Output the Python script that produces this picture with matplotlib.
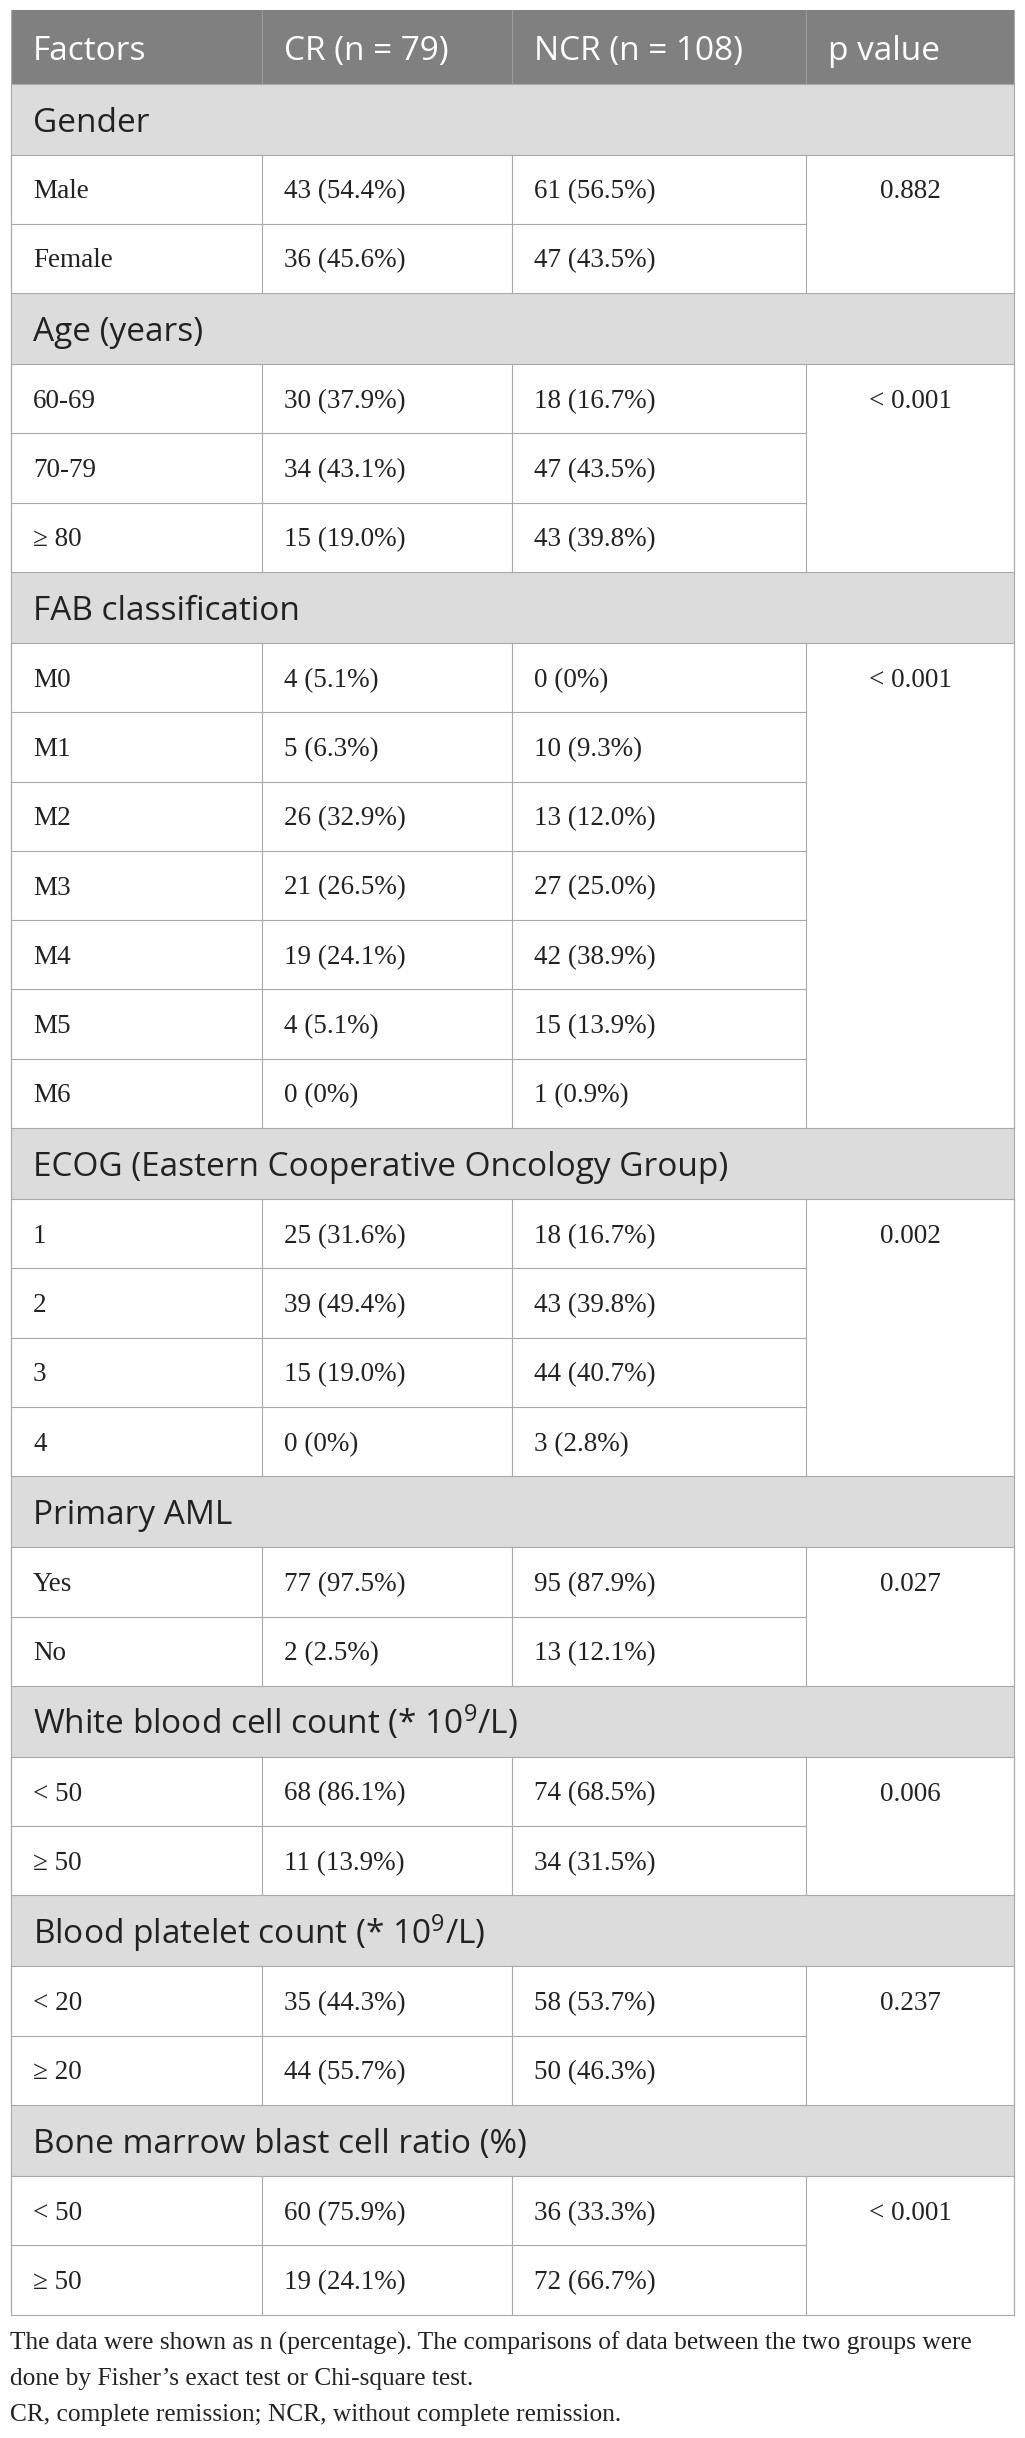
import matplotlib
matplotlib.use("Agg")
import matplotlib.pyplot as plt
from matplotlib.patches import Rectangle

plt.rcParams['mathtext.fontset'] = 'custom'
plt.rcParams['mathtext.rm'] = 'Open Sans'
plt.rcParams['mathtext.it'] = 'Open Sans:italic'

# table content
headers = ["Factors", "CR (n = 79)", "NCR (n = 108)", "p value"]

sections = ["Gender",
            "Age (years)",
            "FAB classification",
            "ECOG (Eastern Cooperative Oncology Group)",
            "Primary AML",
            r"White blood cell count (* $10^{9}$/L)",
            r"Blood platelet count (* $10^{9}$/L)",
            "Bone marrow blast cell ratio (%)"]

levels = [["Male", "Female"],
          ["60-69", "70-79", "\u2265 80"],
          ["M0", "M1", "M2", "M3", "M4", "M5", "M6"],
          ["1", "2", "3", "4"],
          ["Yes", "No"],
          ["< 50", "\u2265 50"],
          ["< 20", "\u2265 20"],
          ["< 50", "\u2265 50"]]

cr = [["43 (54.4%)", "36 (45.6%)"],
      ["30 (37.9%)", "34 (43.1%)", "15 (19.0%)"],
      ["4 (5.1%)", "5 (6.3%)", "26 (32.9%)", "21 (26.5%)", "19 (24.1%)", "4 (5.1%)", "0 (0%)"],
      ["25 (31.6%)", "39 (49.4%)", "15 (19.0%)", "0 (0%)"],
      ["77 (97.5%)", "2 (2.5%)"],
      ["68 (86.1%)", "11 (13.9%)"],
      ["35 (44.3%)", "44 (55.7%)"],
      ["60 (75.9%)", "19 (24.1%)"]]

ncr = [["61 (56.5%)", "47 (43.5%)"],
       ["18 (16.7%)", "47 (43.5%)", "43 (39.8%)"],
       ["0 (0%)", "10 (9.3%)", "13 (12.0%)", "27 (25.0%)", "42 (38.9%)", "15 (13.9%)", "1 (0.9%)"],
       ["18 (16.7%)", "43 (39.8%)", "44 (40.7%)", "3 (2.8%)"],
       ["95 (87.9%)", "13 (12.1%)"],
       ["74 (68.5%)", "34 (31.5%)"],
       ["58 (53.7%)", "50 (46.3%)"],
       ["36 (33.3%)", "72 (66.7%)"]]

p_values = ["0.882", "< 0.001", "< 0.001", "0.002", "0.027", "0.006", "0.237", "< 0.001"]

notes = ["The data were shown as n (percentage). The comparisons of data between the two groups were",
         "done by Fisher\u2019s exact test or Chi-square test.",
         "CR, complete remission; NCR, without complete remission."]

# layout in pixels
W, H = 1025, 2438
col_x = [11, 262, 512, 806, 1014]
top, head_h, sec_h, row_h = 10, 73.5, 71, 69.3
pad = 22
sans = "Open Sans"
serif = "Liberation Serif"
head_bg, sec_bg = "#808080", "#dcdcdc"
line_c, text_c = "#a9a9a9", "#222222"
lw = 0.8

fig = plt.figure(figsize=(W / 100, H / 100), dpi=100)
ax = fig.add_axes([0, 0, 1, 1])
ax.set_xlim(0, W)
ax.set_ylim(H, 0)
ax.axis('off')

# header
ax.add_patch(Rectangle((col_x[0], top), col_x[-1] - col_x[0], head_h,
                       facecolor=head_bg, edgecolor='none'))
for x in col_x[1:-1]:
    ax.plot([x, x], [top, top + head_h], color="#9c9c9c", lw=lw)
for i, h in enumerate(headers):
    ax.text(col_x[i] + pad, top + head_h / 2 + 13, h, color='white',
            fontsize=24, family=sans, va='baseline', ha='left')

y = top + head_h
for s, sec in enumerate(sections):
    ax.add_patch(Rectangle((col_x[0], y), col_x[-1] - col_x[0], sec_h,
                           facecolor=sec_bg, edgecolor='none'))
    ax.text(col_x[0] + pad, y + sec_h / 2 + 12.5, sec, color=text_c,
            fontsize=24, family=sans, va='baseline', ha='left')
    ax.plot([col_x[0], col_x[-1]], [y, y], color=line_c, lw=lw)
    y += sec_h
    ax.plot([col_x[0], col_x[-1]], [y, y], color=line_c, lw=lw)
    y0 = y
    for r in range(len(levels[s])):
        base = y + row_h / 2 + 9
        for c, txt in enumerate([levels[s][r], cr[s][r], ncr[s][r]]):
            ax.text(col_x[c] + pad, base, txt, color=text_c, fontsize=19.5,
                    family=serif, va='baseline', ha='left')
        if r == 0:
            ax.text((col_x[3] + col_x[4]) / 2, base, p_values[s], color=text_c,
                    fontsize=19.5, family=serif, va='baseline', ha='center')
        y += row_h
        if r < len(levels[s]) - 1:
            ax.plot([col_x[0], col_x[3]], [y, y], color=line_c, lw=lw)
    for x in col_x:
        ax.plot([x, x], [y0, y], color=line_c, lw=lw)

ax.plot([col_x[0], col_x[-1]], [y, y], color=line_c, lw=lw)
ax.plot([col_x[0], col_x[0]], [top, y], color=line_c, lw=lw)
ax.plot([col_x[-1], col_x[-1]], [top, y], color=line_c, lw=lw)

for i, line in enumerate(notes):
    ax.text(10, 2350 + i * 35.5, line, color=text_c, fontsize=18.3,
            family=serif, va='baseline', ha='left')

fig.savefig("out.png", dpi=100)
